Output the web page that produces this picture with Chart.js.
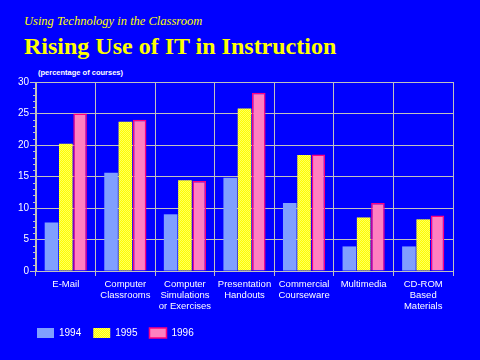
<!DOCTYPE html>
<html lang="en">
<head>
<meta charset="UTF-8">
<title>Rising Use of IT in Instruction</title>
<script src="https://cdn.jsdelivr.net/npm/chart.js"></script>
<style>
  html, body { margin: 0; padding: 0; background: #0000FF; }
  #wrap { position: relative; width: 480px; height: 360px; overflow: hidden; }
  #chart { position: absolute; left: 0; top: 0; }
  .kicker { position: absolute; left: 24px; top: 14px; color: #FFFF00;
            font: italic 12.5px "Liberation Serif", serif; white-space: nowrap; }
  .title { position: absolute; left: 24px; top: 33px; color: #FFFF00;
           font: bold 24px "Liberation Serif", serif; white-space: nowrap; }
  .unit { position: absolute; left: 38px; top: 68px; color: #FFFFFF;
          font: bold 7.5px "Liberation Sans", sans-serif; white-space: nowrap; }
</style>
</head>
<body>
<div id="wrap">
  <div class="kicker">Using Technology in the Classroom</div>
  <div class="title">Rising Use of IT in Instruction</div>
  <div class="unit">(percentage of courses)</div>
  <canvas id="chart" width="480" height="360"></canvas>
</div>
<script>
// categories (multi-line labels as drawn on the slide)
const categories = [
  ['E-Mail'],
  ['Computer', 'Classrooms'],
  ['Computer', 'Simulations', 'or Exercises'],
  ['Presentation', 'Handouts'],
  ['Commercial', 'Courseware'],
  ['Multimedia'],
  ['CD-ROM', 'Based', 'Materials']
];
const years = ['1994', '1995', '1996'];

// percentage of courses
const values1994 = [7.7, 15.6, 9.0, 14.8, 10.8, 3.9, 3.9];
const values1995 = [20.2, 23.7, 14.4, 25.8, 18.4, 8.5, 8.2];
const values1996 = [25.0, 24.0, 14.3, 28.3, 18.5, 10.8, 8.8];

// yellow dither like the original fill, written pixel by pixel
function ditherPattern() {
  const c = document.createElement('canvas');
  c.width = 2; c.height = 2;
  const g = c.getContext('2d');
  const img = g.createImageData(2, 2);
  const px = [[255, 255, 96], [255, 255, 0], [255, 255, 0], [255, 255, 96]];
  px.forEach((p, i) => {
    img.data[i * 4] = p[0];
    img.data[i * 4 + 1] = p[1];
    img.data[i * 4 + 2] = p[2];
    img.data[i * 4 + 3] = 255;
  });
  g.putImageData(img, 0, 0);
  return g.createPattern(c, 'repeat');
}
const yellowFill = ditherPattern();

// small ticks on the value axis every 1 unit
const minorTicks = {
  id: 'minorTicks',
  afterDraw(chart) {
    const y = chart.scales.y;
    const ctx = chart.ctx;
    ctx.save();
    ctx.strokeStyle = '#C0C0C0';
    ctx.lineWidth = 1;
    for (let v = 0; v <= 30; v++) {
      if (v % 5 === 0) continue;
      const py = Math.round(y.getPixelForValue(v)) + 0.5;
      ctx.beginPath();
      ctx.moveTo(y.right - 3, py);
      ctx.lineTo(y.right, py);
      ctx.stroke();
    }
    ctx.restore();
  }
};

new Chart(document.getElementById('chart').getContext('2d'), {
  type: 'bar',
  data: {
    labels: categories,
    datasets: [
      { label: years[0], data: values1994, backgroundColor: '#809FFF', borderWidth: 0 },
      { label: years[1], data: values1995, backgroundColor: yellowFill, borderWidth: 0 },
      { label: years[2], data: values1996, backgroundColor: '#FF80C0', borderColor: '#FF0080', borderWidth: 1.5 }
    ]
  },
  options: {
    responsive: false,
    animation: false,
    devicePixelRatio: 1,
    layout: { padding: { left: 25, right: 27, top: 82, bottom: 12 } },
    datasets: {
      bar: { categoryPercentage: 0.72, barPercentage: 0.95 }
    },
    plugins: {
      tooltip: { enabled: false },
      legend: {
        position: 'bottom',
        align: 'start',
        labels: {
          color: '#FFFFFF',
          font: { family: 'Liberation Sans', size: 10 },
          boxWidth: 17,
          boxHeight: 10,
          padding: 12
        }
      }
    },
    scales: {
      x: {
        afterFit(scale) { scale.height = 45; },
        grid: { color: '#C0C0C0', lineWidth: 1, tickLength: 5, offset: true },
        border: { color: '#C0C0C0', width: 1 },
        ticks: {
          color: '#FFFFFF',
          font: { family: 'Liberation Sans', size: 9.5, lineHeight: 1.15 },
          maxRotation: 0,
          autoSkip: false,
          padding: 3
        }
      },
      y: {
        min: 0,
        max: 30,
        afterFit(scale) { scale.width = 11; },
        grid: { color: '#C0C0C0', lineWidth: 1, tickLength: 6 },
        border: { color: '#C0C0C0', width: 1 },
        ticks: {
          stepSize: 5,
          color: '#FFFFFF',
          font: { family: 'Liberation Sans', size: 10 },
          mirror: true,
          crossAlign: 'far',
          padding: -18
        }
      }
    }
  },
  plugins: [minorTicks]
});
</script>
</body>
</html>
